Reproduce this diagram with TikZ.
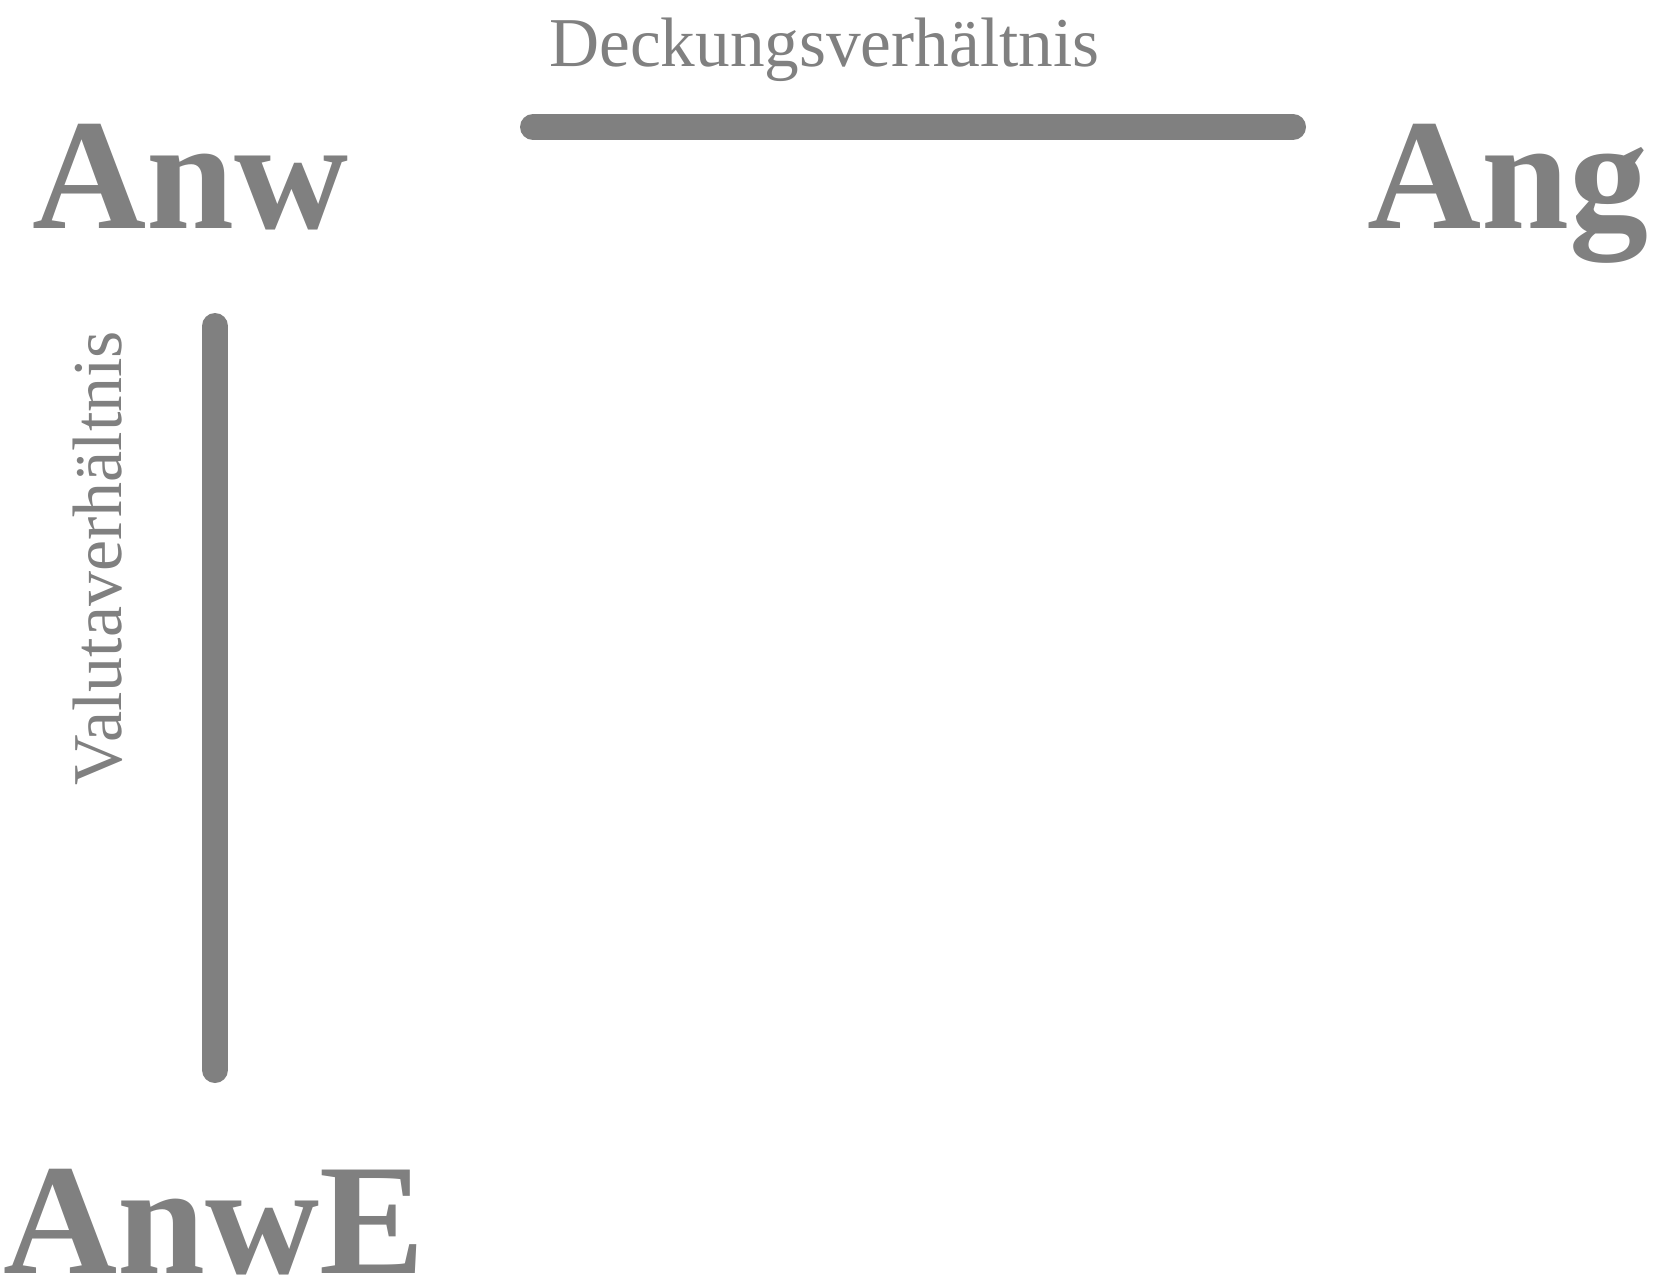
\documentclass[tikz,border=0pt]{standalone}
\usepackage{fontspec}
\setmainfont{Liberation Serif}
\definecolor{relgray}{HTML}{808080}
\begin{document}
\begin{tikzpicture}[x=1pt,y=-1pt,
  party/.style={text=relgray, font=\fontsize{158}{158}\selectfont\bfseries, inner sep=0pt, anchor=base west},
  relation/.style={text=relgray, font=\fontsize{70}{70}\selectfont, inner sep=0pt, anchor=base west},
  bond/.style={draw=relgray, line width=26pt, line cap=round}]
  \useasboundingbox (0,0) rectangle (1665,1285);

  % parties
  \node[party] (anw) at (32,228) {Anw};
  \node[party] (ang) at (1367,228) {Ang};
  \node[party] (anwe) at (3,1273) {AnwE};

  % relation labels
  \node[relation, xscale=0.99] (deckung) at (549,66) {Deckungsverhältnis};
  \node[relation, rotate=90] (valuta) at (121,786) {Valutaverhältnis};

  % relation bars
  \coordinate (d1) at (533,127);
  \coordinate (d2) at (1293,127);
  \coordinate (v1) at (215,326);
  \coordinate (v2) at (215,1070);
  \draw[bond] (d1) -- (d2);
  \draw[bond] (v1) -- (v2);
\end{tikzpicture}
\end{document}
